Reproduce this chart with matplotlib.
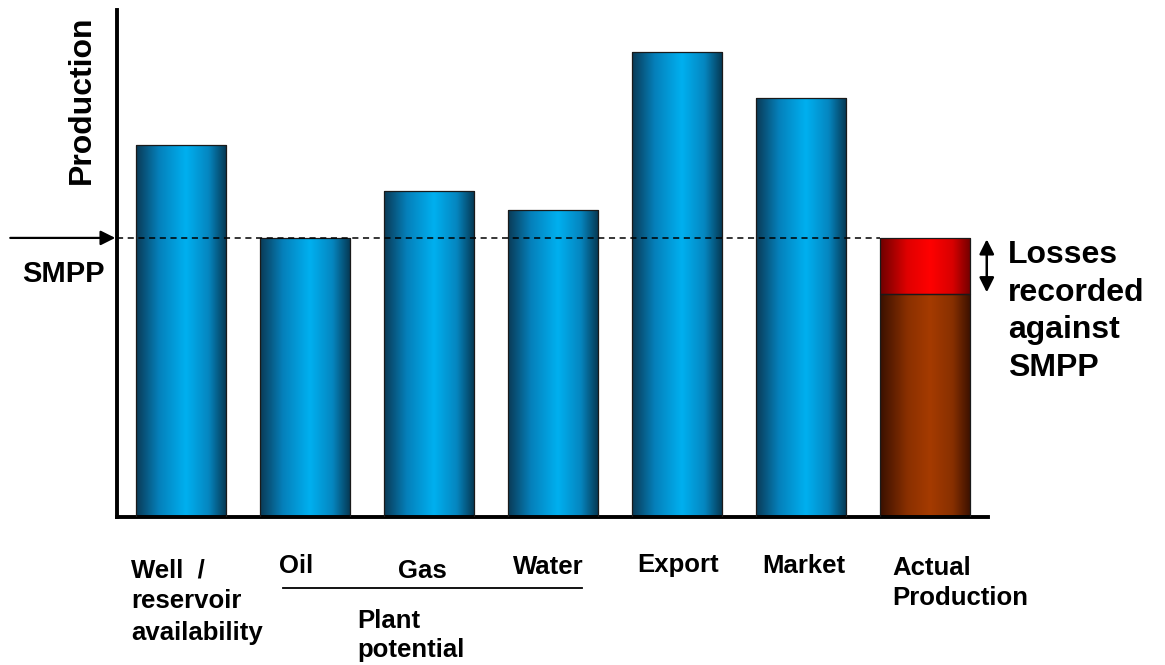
import numpy as np
import matplotlib
matplotlib.use("Agg")
import matplotlib.pyplot as plt
from matplotlib.colors import LinearSegmentedColormap
from matplotlib.patches import Rectangle

# ── Data ─────────────────────────────────────────────────────────────────────
categories = ["Well", "Oil", "Gas", "Water", "Export", "Market", "Actual"]
potential = [80, 60, 70, 66, 100, 90]        # blue bars
actual_production = 48                        # brown part of last bar
smpp = 60                                     # dashed reference level
y_max = 109
losses_text = ["Losses", "recorded", "against", "SMPP"]

plt.rcParams["font.family"] = ["Liberation Sans", "DejaVu Sans"]
plt.rcParams["font.weight"] = "bold"

W, H = 1165, 665
fig = plt.figure(figsize=(W / 100, H / 100), dpi=100)
fig.patch.set_facecolor("white")


def px(x, y):
    """pixel (top-left origin) -> figure fraction"""
    return x / W, 1 - y / H


# axes box: left spine at x=117, bottom at y=517, top y=10, right 988
ax = fig.add_axes([117 / W, (H - 517) / H, (988 - 117) / W, (517 - 10) / H])
for s in ["top", "right"]:
    ax.spines[s].set_visible(False)
for s in ["left", "bottom"]:
    ax.spines[s].set_linewidth(2.8)
ax.set_xticks([])
ax.set_yticks([])

bar_w = 0.726

blue = LinearSegmentedColormap.from_list(
    "blue", [(0, "#0a3a56"), (0.25, "#0580ba"), (0.55, "#00b0f0"), (0.8, "#0586c0"), (1, "#063650")])
red = LinearSegmentedColormap.from_list(
    "red", [(0, "#6e0000"), (0.3, "#e00000"), (0.55, "#ff0000"), (0.8, "#d80000"), (1, "#700000")])
brown = LinearSegmentedColormap.from_list(
    "brown", [(0, "#3a1000"), (0.3, "#8a3000"), (0.55, "#a53b00"), (0.8, "#883000"), (1, "#3a1000")])
grad = np.linspace(0, 1, 256).reshape(1, -1)


def grad_bar(x, y0, y1, cmap):
    rect = Rectangle((x - bar_w / 2, y0), bar_w, y1 - y0, facecolor="none",
                     edgecolor="#1a1a1a", lw=0.9, zorder=3)
    ax.add_patch(rect)
    im = ax.imshow(grad, cmap=cmap, aspect="auto", zorder=2,
                   extent=(x - bar_w / 2, x + bar_w / 2, y0, y1), interpolation="bicubic")
    im.set_clip_path(rect)


for i, v in enumerate(potential):
    grad_bar(i, 0, v, blue)

last = len(categories) - 1
grad_bar(last, 0, actual_production, brown)
grad_bar(last, actual_production, smpp, red)
ax.set_xlim(-0.516, 6.51)
ax.set_ylim(0, y_max)

# SMPP dashed line + arrow
ax.hlines(smpp, -0.516, last - bar_w / 2, colors="black", linestyles=(0, (4, 3)),
          lw=1.1, zorder=4)
ax.annotate("", xy=(-0.53, smpp), xycoords="data", xytext=(-105, 0),
            textcoords="offset pixels",
            arrowprops=dict(arrowstyle="-|>", mutation_scale=22, lw=1.6, color="black",
                            shrinkA=0, shrinkB=0), annotation_clip=False)
fig.text(*px(22, 282), "SMPP", fontsize=21, fontweight="bold", va="baseline", ha="left")

# losses double arrow
ax.annotate("", xy=(6.5, actual_production), xytext=(6.5, smpp),
            arrowprops=dict(arrowstyle="<|-|>", mutation_scale=22, lw=1.8, color="black",
                            shrinkA=1, shrinkB=1), annotation_clip=False)
for k, line in enumerate(losses_text):
    fig.text(*px(1008, 263 + 37.7 * k), line, fontsize=23, fontweight="bold",
             va="baseline", ha="left")

# y axis label
fig.text(*px(82, 100), "Production", fontsize=23, fontweight="bold", rotation=90,
         va="center", ha="center")

# category labels
lab = dict(fontsize=18.5, fontweight="bold", ha="left", va="baseline")
fig.text(*px(131, 577), "Well  /", **lab)
fig.text(*px(131, 608), "reservoir", **lab)
fig.text(*px(131, 640), "availability", **lab)
fig.text(*px(279, 573), "Oil", **lab)
fig.text(*px(398, 578), "Gas", **lab)
fig.text(*px(513, 574), "Water", **lab)
fig.add_artist(plt.Line2D([283 / W, 582 / W], [1 - 588 / H, 1 - 588 / H], color="black", lw=1.3))
fig.text(*px(357, 628), "Plant", **lab)
fig.text(*px(357, 657), "potential", **lab)
fig.text(*px(637, 572), "Export", **lab)
fig.text(*px(762, 573), "Market", **lab)
fig.text(*px(892, 575), "Actual", **lab)
fig.text(*px(892, 605), "Production", **lab)

fig.savefig("out.png", dpi=100, facecolor="white")
